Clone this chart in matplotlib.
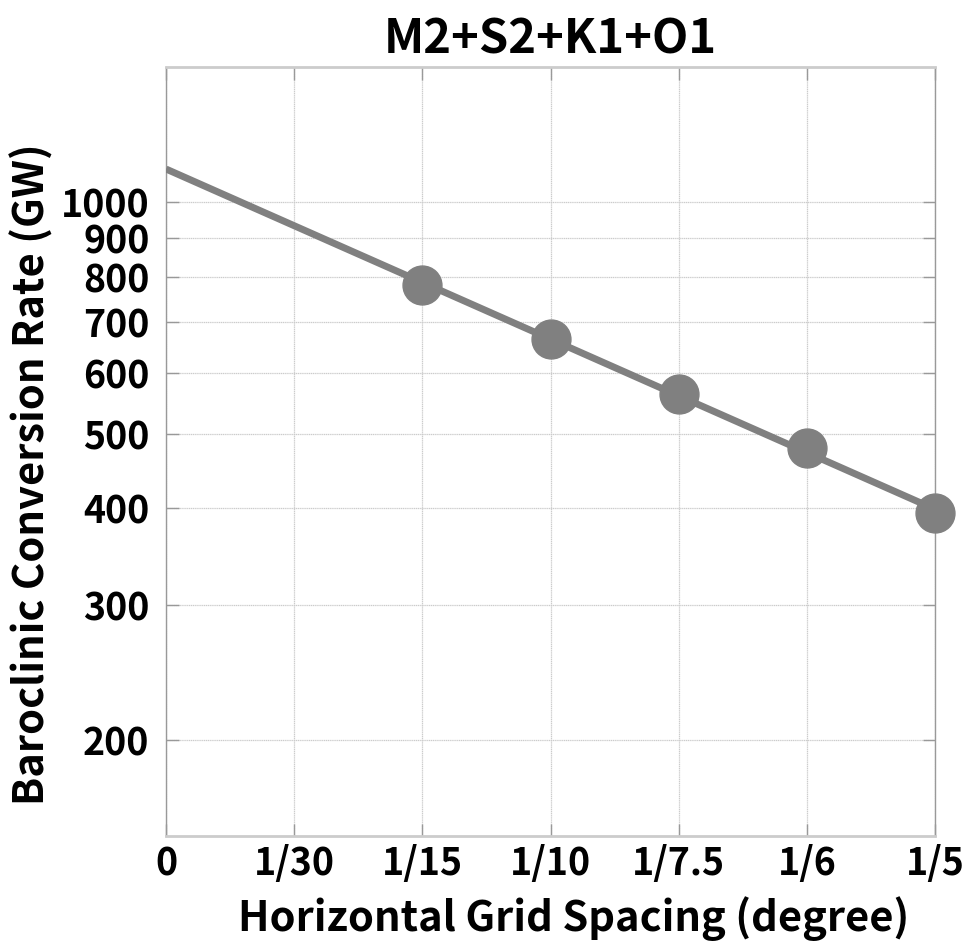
import numpy as np
import matplotlib
matplotlib.use("Agg")
import matplotlib.pyplot as plt
from matplotlib.ticker import FixedLocator, NullLocator

plt.rcParams['font.family'] = ['Noto Sans CJK JP', 'DejaVu Sans']
plt.rcParams['font.weight'] = 'bold'
plt.rcParams['axes.labelweight'] = 'bold'
plt.rcParams['axes.titleweight'] = 'bold'

title = "M2+S2+K1+O1"
x_ticks = [0, 1/30, 1/15, 1/10, 1/7.5, 1/6, 1/5]
x_ticklabels = ["0", "1/30", "1/15", "1/10", "1/7.5", "1/6", "1/5"]
y_ticks = [200, 300, 400, 500, 600, 700, 800, 900, 1000]
spacing = [1/15, 1/10, 1/7.5, 1/6, 1/5]
conversion = [782, 664, 564, 479, 394]

gray = "#808080"

fig = plt.figure(figsize=(9.75, 9.42), dpi=100)
ax = fig.add_axes([0.1703, 0.1125, 0.959 - 0.1703, 0.9289 - 0.1125])

# exponential fit (linear in log space)
coef = np.polyfit(spacing, np.log10(conversion), 1)
xf = np.array([0.0, 0.2])
ax.plot(xf, 10 ** np.polyval(coef, xf), color=gray, lw=5, solid_capstyle='butt', zorder=3)
ax.plot(spacing, conversion, 'o', color=gray, ms=28, zorder=4, clip_on=False)

ax.set_yscale('log')
ax.set_xlim(0, 0.2)
ax.set_ylim(150, 1500)
ax.xaxis.set_major_locator(FixedLocator(x_ticks))
ax.set_xticklabels(x_ticklabels)
ax.yaxis.set_major_locator(FixedLocator(y_ticks))
ax.yaxis.set_minor_locator(NullLocator())
ax.set_yticklabels([str(v) for v in y_ticks])

ax.grid(True, which='major', color='#cccccc', lw=0.9, ls=(0, (1, 0.5)))
ax.set_axisbelow(True)

ax.tick_params(axis='both', which='major', direction='in', length=9, width=1,
               color='#999999', labelsize=27, top=True, right=True)
ax.tick_params(axis='x', pad=6)
ax.tick_params(axis='y', pad=12)

for s in ['left', 'right']:
    ax.spines[s].set_color('#999999')
    ax.spines[s].set_linewidth(1)
for s in ['top', 'bottom']:
    ax.spines[s].set_color('#cccccc')
    ax.spines[s].set_linewidth(2)

ax.set_title(title, fontsize=34, pad=10)
ax.set_xlabel("Horizontal Grid Spacing (degree)", fontsize=30)
ax.set_ylabel("Baroclinic Conversion Rate (GW)", fontsize=30)
ax.xaxis.set_label_coords(0.53, -0.078)
ax.yaxis.set_label_coords(-0.146, 0.47)

fig.savefig("out.png", dpi=100)
